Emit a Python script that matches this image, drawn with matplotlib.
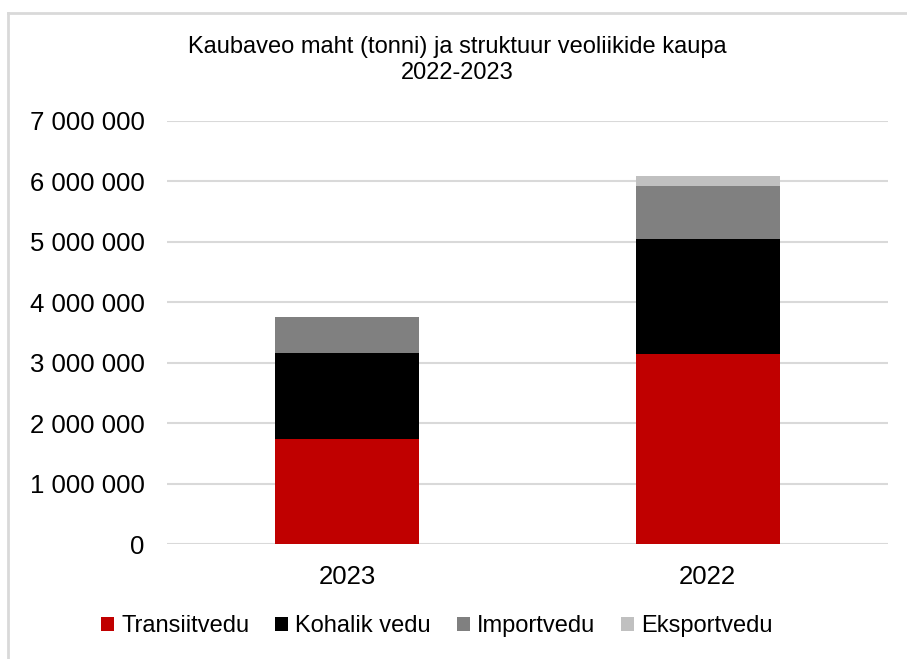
import matplotlib
matplotlib.use("Agg")
import matplotlib.pyplot as plt
from matplotlib.lines import Line2D
from matplotlib.patches import Patch
from matplotlib.ticker import FuncFormatter

plt.rcParams['font.family'] = ['Liberation Sans', 'DejaVu Sans']

years = ["2023", "2022"]
series_names = ["Transiitvedu", "Kohalik vedu", "Importvedu", "Eksportvedu"]
transiitvedu = [1740000, 3140000]
kohalik_vedu = [1420000, 1900000]
importvedu = [590000, 880000]
eksportvedu = [0, 170000]
colors = ["#c00000", "#000000", "#808080", "#c0c0c0"]
yticks = [0, 1000000, 2000000, 3000000, 4000000, 5000000, 6000000, 7000000]
title = "Kaubaveo maht (tonni) ja struktuur veoliikide kaupa\n2022-2023"

W, H = 907, 659
fig = plt.figure(figsize=(W / 100, H / 100), dpi=100)
ax = fig.add_axes([167 / W, 1 - 544 / H, (888 - 167) / W, (544 - 121) / H])

series = [transiitvedu, kohalik_vedu, importvedu, eksportvedu]
x = list(range(len(years)))
bottom = [0] * len(years)
for name, vals, c in zip(series_names, series, colors):
    ax.bar(x, vals, width=0.4, bottom=bottom, color=c, label=name, zorder=3)
    bottom = [b + v for b, v in zip(bottom, vals)]

ax.set_xlim(-0.5, len(years) - 0.5)
ax.set_ylim(0, 7000000)
ax.set_yticks(yticks)
ax.yaxis.set_major_formatter(FuncFormatter(lambda v, p: f"{int(v):,}".replace(",", " ")))
ax.set_xticks(x)
ax.set_xticklabels(years)
ax.tick_params(axis='both', length=0, labelsize=18.5, colors="#000000")
ax.tick_params(axis='y', pad=16)
ax.tick_params(axis='x', pad=15)
ax.grid(axis='y', color="#d9d9d9", linewidth=1.5, zorder=0)
for s in ax.spines.values():
    s.set_visible(False)

fig.text(457 / W, 1 - 60 / H, title, ha='center', va='center', fontsize=17, linespacing=1.25)

handles = [Patch(facecolor=c, edgecolor='none') for c in colors]
fig.legend(handles, series_names, loc='center', bbox_to_anchor=(437 / W, 1 - 626 / H),
           ncol=4, frameon=False, fontsize=17, handlelength=0.55, handleheight=0.55,
           handletextpad=0.3, columnspacing=1.1)

# outer chart border (partially visible)
fig.add_artist(Line2D([8 / W, 1.0], [1 - 13 / H, 1 - 13 / H], color="#d9d9d9", linewidth=2, transform=fig.transFigure))
fig.add_artist(Line2D([8 / W, 8 / W], [0, 1 - 13 / H], color="#d9d9d9", linewidth=2, transform=fig.transFigure))

fig.savefig("out.png", dpi=100)
